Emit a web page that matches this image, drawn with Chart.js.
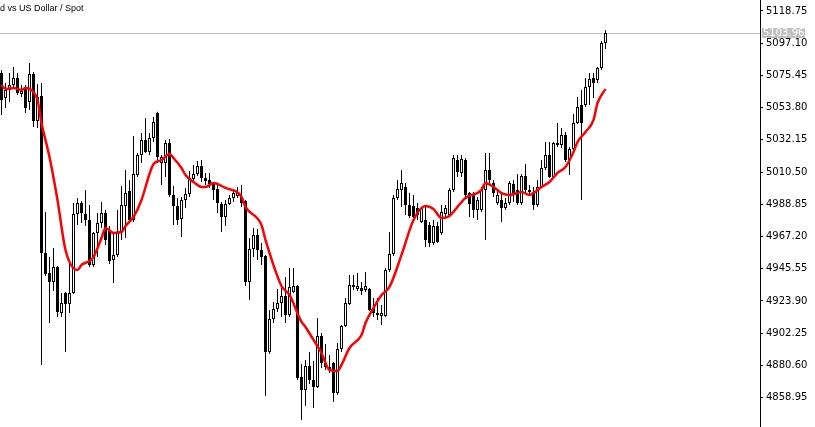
<!DOCTYPE html>
<html>
<head>
<meta charset="utf-8">
<script src="https://cdn.jsdelivr.net/npm/chart.js"></script>
<style>
  html, body { margin: 0; padding: 0; background: #fff; overflow: hidden; }
  #wrap { position: relative; width: 815px; height: 427px; }
</style>
</head>
<body>
<div id="wrap"><canvas id="priceChart"></canvas></div>
<script>
  // Gold vs US Dollar, OHLC per bar
  const symbolTitle = 'd vs US Dollar / Spot';
  const lastPrice = 5103.96;

  const opens = [
    5077.1, 5060.3, 5065.7, 5069.0, 5073.7, 5063.0, 5067.7, 5057.6, 5076.4, 5044.8,
    5061.6, 4956.1, 4942.7, 4936.6, 4946.7, 4915.8, 4929.2, 4921.8, 4929.2, 4982.3,
    4989.7, 4982.3, 4978.3, 4948.1, 4969.6, 4976.3, 4983.0, 4971.6, 4951.4, 4954.8,
    4970.2, 4987.7, 4997.8, 4978.3, 5008.5, 5022.0, 5032.1, 5024.0, 5033.4, 5050.2,
    5016.6, 5016.6, 5030.0, 4995.1, 4987.7, 4979.0, 4991.7, 4995.8, 5005.9, 5009.2,
    5014.6, 5006.5, 5005.2, 5002.5, 4999.1, 4989.0, 4980.3, 4989.0, 4993.1, 4994.4,
    4993.8, 4991.1, 4936.6, 4958.8, 4968.2, 4958.1, 4954.1, 4889.6, 4911.8, 4918.5,
    4922.5, 4927.2, 4914.5, 4929.9, 4933.9, 4872.8, 4864.1, 4880.2, 4870.8, 4866.1,
    4900.3, 4882.2, 4878.2, 4882.2, 4862.1, 4891.6, 4907.1, 4921.8, 4933.3, 4931.9,
    4932.6, 4931.3, 4931.9, 4919.2, 4915.8, 4913.8, 4913.8, 4944.7, 4955.4, 4993.1,
    4998.5, 5000.5, 4988.4, 4987.7, 4986.4, 4976.9, 4978.3, 4974.9, 4962.8, 4974.3,
    4969.6, 4982.3, 4981.7, 4998.5, 5018.6, 5009.9, 5018.6, 4996.4, 4995.1, 4985.0,
    4985.0, 4998.5, 5011.9, 5003.2, 4989.7, 4991.7, 4986.4, 4989.7, 5002.5, 4998.5,
    4989.7, 5007.9, 4998.5, 4997.1, 4988.4, 5000.5, 5013.2, 5022.0, 5007.2, 5030.0,
    5028.7, 5035.4, 5018.6, 5026.0, 5043.5, 5055.6, 5055.6, 5067.7, 5073.7, 5072.4,
    5080.4, 5097.2
  ];
  const highs = [
    5079.1, 5070.4, 5077.1, 5081.1, 5077.1, 5069.0, 5069.0, 5083.8, 5077.7, 5069.7,
    5070.4, 4983.7, 4953.4, 4959.5, 4947.4, 4929.2, 4929.9, 4950.1, 4989.7, 4993.1,
    4991.1, 4998.5, 4988.4, 4970.2, 4983.0, 4990.4, 4985.0, 4974.3, 4970.2, 4985.0,
    5001.2, 5011.9, 5005.2, 5034.8, 5023.3, 5036.8, 5046.8, 5036.8, 5047.5, 5051.0,
    5022.0, 5032.1, 5032.7, 5001.2, 4993.1, 4993.8, 4999.8, 5011.2, 5015.3, 5017.9,
    5018.6, 5009.9, 5009.9, 5003.8, 5001.8, 4990.4, 4991.7, 4995.1, 4998.5, 5000.5,
    5001.8, 4991.7, 4966.2, 4972.9, 4972.3, 4962.8, 4954.8, 4917.8, 4923.2, 4931.9,
    4932.6, 4940.0, 4946.0, 4946.0, 4934.6, 4881.5, 4884.2, 4889.6, 4883.6, 4912.4,
    4902.4, 4894.9, 4887.6, 4882.9, 4895.6, 4907.7, 4925.9, 4941.3, 4941.3, 4942.7,
    4936.6, 4943.4, 4932.6, 4925.9, 4925.9, 4921.2, 4946.0, 4970.2, 4995.1, 5005.2,
    5011.9, 5003.2, 4996.4, 4995.1, 4989.7, 4987.1, 4987.1, 4976.9, 4978.3, 4976.9,
    4988.4, 4988.4, 4999.8, 5022.0, 5022.0, 5022.0, 5019.9, 4997.1, 4997.1, 4993.8,
    5000.5, 5023.3, 5023.3, 5005.2, 4998.5, 4996.4, 4993.1, 5004.5, 5005.2, 5009.2,
    5009.2, 5015.9, 5001.8, 5000.5, 5005.2, 5018.6, 5030.7, 5030.7, 5030.7, 5043.5,
    5040.1, 5037.4, 5027.4, 5049.5, 5061.0, 5065.7, 5073.7, 5077.1, 5077.1, 5081.1,
    5098.6, 5106.0
  ];
  const lows = [
    5048.9, 5053.6, 5057.6, 5067.0, 5062.3, 5061.0, 5050.2, 5052.2, 5040.8, 5040.1,
    4880.9, 4940.7, 4909.1, 4930.6, 4913.1, 4913.1, 4889.6, 4915.8, 4928.6, 4974.9,
    4976.3, 4974.3, 4946.7, 4946.7, 4953.4, 4972.9, 4961.5, 4948.7, 4936.0, 4953.4,
    4964.9, 4966.2, 4976.9, 4976.9, 5007.2, 5016.6, 5023.3, 5022.0, 5030.7, 5016.6,
    5001.8, 5007.2, 4993.8, 4974.9, 4974.9, 4966.9, 4986.4, 4993.8, 5003.2, 5007.9,
    5003.8, 5001.8, 4999.8, 4991.7, 4983.0, 4970.2, 4974.3, 4988.4, 4990.4, 4993.1,
    4987.1, 4933.9, 4924.5, 4953.4, 4951.4, 4948.1, 4860.0, 4888.3, 4909.1, 4916.5,
    4913.1, 4909.1, 4913.1, 4929.2, 4870.8, 4843.9, 4853.3, 4868.1, 4852.0, 4865.4,
    4878.8, 4877.5, 4875.5, 4856.0, 4860.7, 4889.6, 4906.4, 4921.2, 4931.3, 4930.6,
    4927.9, 4929.9, 4917.1, 4913.1, 4911.1, 4907.7, 4913.1, 4943.4, 4954.1, 4991.7,
    4987.1, 4981.7, 4979.6, 4978.3, 4978.3, 4976.3, 4960.1, 4960.1, 4961.5, 4962.8,
    4968.2, 4980.3, 4980.3, 4997.1, 5007.2, 5007.2, 4993.8, 4980.3, 4979.6, 4978.3,
    4983.7, 4964.9, 5003.2, 4993.8, 4988.4, 4976.9, 4985.0, 4988.4, 4990.4, 4988.4,
    4988.4, 4996.4, 4995.8, 4985.0, 4987.1, 4999.8, 5011.9, 5006.5, 5006.5, 5027.4,
    5026.7, 5017.3, 5008.5, 5025.3, 5042.8, 4991.7, 5054.2, 5055.6, 5060.3, 5070.4,
    5079.1, 5093.2
  ];
  const closes = [
    5058.9, 5065.7, 5069.0, 5073.7, 5063.6, 5065.0, 5053.6, 5076.4, 5044.8, 5061.0,
    4956.1, 4942.0, 4936.6, 4946.7, 4916.5, 4922.5, 4921.8, 4929.2, 4982.3, 4989.7,
    4983.0, 4978.3, 4948.1, 4969.6, 4976.3, 4983.0, 4964.9, 4950.7, 4954.8, 4969.6,
    4988.4, 4996.4, 4978.3, 5009.2, 5022.0, 5032.1, 5024.0, 5033.4, 5044.1, 5020.6,
    5020.6, 5030.0, 4995.1, 4987.7, 4978.3, 4991.7, 4995.8, 5006.5, 5009.2, 5014.6,
    5006.5, 5004.5, 5002.5, 4998.5, 4989.7, 4980.3, 4989.0, 4993.1, 4996.4, 4996.4,
    4989.7, 4936.6, 4958.8, 4968.2, 4958.1, 4953.4, 4889.6, 4911.8, 4918.5, 4922.5,
    4927.2, 4914.5, 4933.3, 4933.9, 4872.1, 4864.1, 4880.2, 4870.8, 4866.1, 4900.3,
    4882.2, 4879.5, 4879.5, 4862.1, 4891.6, 4907.1, 4922.5, 4934.6, 4934.6, 4933.9,
    4930.6, 4933.9, 4917.8, 4915.8, 4914.5, 4915.8, 4944.7, 4955.4, 4993.1, 4999.1,
    5003.2, 4988.4, 4981.0, 4980.3, 4981.7, 4986.4, 4964.9, 4962.8, 4974.3, 4963.5,
    4983.7, 4986.4, 4998.5, 5019.9, 5010.6, 5019.3, 4995.1, 4989.0, 4985.0, 4991.7,
    4998.5, 5011.9, 5005.2, 4996.4, 4995.1, 4986.4, 4989.7, 5003.2, 4995.1, 4989.7,
    5007.9, 4998.5, 4997.1, 4988.4, 5000.5, 5013.2, 5022.0, 5007.2, 5030.0, 5028.7,
    5035.4, 5018.6, 5026.0, 5043.5, 5054.2, 5043.5, 5067.7, 5073.0, 5070.4, 5080.4,
    5097.2, 5103.96
  ];

  // red moving average, read at these bar numbers
  const maBars = [
    0, 1, 3, 5, 6, 8, 9, 10, 12, 14, 16, 19, 20, 22, 23, 25, 26, 28, 30, 31,
    33, 35, 37, 38, 40, 42, 43, 45, 46, 48, 50, 51, 53, 56, 60, 61, 65, 66, 70, 72,
    75, 76, 78, 80, 82, 84, 85, 87, 90, 91, 93, 95, 97, 100, 103, 106, 108, 110, 112, 114,
    116, 120, 121, 123, 125, 127, 130, 132, 133, 135, 137, 139, 141, 143, 144, 146, 148, 149, 151
  ];
  const maValues = [
    5069.0, 5066.3, 5067.0, 5065.7, 5067.0, 5064.3, 5058.9, 5043.5, 5020.6, 4991.7,
    4958.1, 4944.7, 4948.1, 4950.7, 4953.4, 4966.2, 4972.9, 4969.6, 4970.2, 4974.3,
    4980.3, 4991.7, 5009.2, 5015.9, 5018.6, 5022.6, 5019.9, 5013.2, 5008.5, 5003.8,
    5000.5, 5000.5, 5003.2, 4999.8, 4993.8, 4987.1, 4974.9, 4964.9, 4933.9, 4927.9,
    4909.8, 4906.4, 4897.7, 4888.9, 4877.5, 4876.8, 4880.9, 4892.3, 4901.0, 4909.1,
    4919.2, 4927.9, 4933.3, 4954.8, 4978.3, 4987.7, 4985.7, 4979.6, 4981.0, 4987.1,
    4993.1, 4998.5, 5003.2, 5000.5, 4996.4, 4995.1, 4997.1, 4995.1, 4996.4, 5000.5,
    5003.8, 5009.9, 5013.9, 5024.0, 5030.7, 5037.4, 5045.5, 5056.9, 5066.3
  ];

  // price scale labels
  const priceTicks = [
    5118.75, 5097.10, 5075.45, 5053.80, 5032.15, 5010.50, 4988.85,
    4967.20, 4945.55, 4923.90, 4902.25, 4880.60, 4858.95
  ];

  const barIdx = opens.map((_, i) => i);
  const rising = opens.map((o, i) => closes[i] >= o);
  const wickData = barIdx.map(i => ({ x: i, y: [lows[i], highs[i]] }));
  const bodyData = barIdx.map(i => ({ x: i, y: [opens[i], closes[i]] }));
  const maData = maBars.map((b, k) => ({ x: b, y: maValues[k] }));

  // price line, price box and the symbol caption
  const chartOverlay = {
    id: 'chartOverlay',
    beforeDatasetsDraw(chart) {
      const { ctx, chartArea } = chart;
      const y = Math.round(chart.scales.y.getPixelForValue(lastPrice)) + 0.5;
      ctx.save();
      ctx.strokeStyle = '#c0c0c0';
      ctx.lineWidth = 1;
      ctx.beginPath();
      ctx.moveTo(chartArea.left, y);
      ctx.lineTo(chartArea.right, y);
      ctx.stroke();
      ctx.restore();
    },
    afterDraw(chart) {
      const { ctx, chartArea } = chart;
      const y = Math.round(chart.scales.y.getPixelForValue(lastPrice));
      ctx.save();
      ctx.fillStyle = '#c0c0c0';
      ctx.fillRect(chartArea.right + 2, y - 5, 43, 10);
      ctx.fillStyle = '#fff';
      ctx.font = '10px "DejaVu Sans"';
      ctx.textBaseline = 'middle';
      ctx.fillText(lastPrice.toFixed(2), chartArea.right + 3, y);
      ctx.fillStyle = '#000';
      ctx.font = '9px "Liberation Sans"';
      ctx.fillText(symbolTitle, 0, 9);
      ctx.restore();
    }
  };

  Chart.defaults.font.family = '"DejaVu Sans", sans-serif';

  const priceChart = new Chart(document.getElementById('priceChart'), {
    type: 'bar',
    data: {
      datasets: [
        {
          type: 'line',
          label: 'MA',
          data: maData,
          borderColor: '#ff0000',
          borderWidth: 2.5,
          pointRadius: 0,
          cubicInterpolationMode: 'monotone',
          order: 0
        },
        {
          label: 'Body',
          data: bodyData,
          backgroundColor: rising.map(r => r ? '#ffffff' : '#000000'),
          borderColor: '#000000',
          borderWidth: 1,
          borderSkipped: false,
          barThickness: 3,
          grouped: false,
          inflateAmount: 0,
          order: 1
        },
        {
          label: 'Wick',
          data: wickData,
          backgroundColor: '#000000',
          borderWidth: 0,
          barThickness: 1,
          grouped: false,
          inflateAmount: 0,
          order: 2
        }
      ]
    },
    options: {
      responsive: true,
      maintainAspectRatio: false,
      animation: false,
      devicePixelRatio: 1,
      events: [],
      layout: { padding: 0 },
      plugins: {
        legend: { display: false },
        tooltip: { enabled: false }
      },
      scales: {
        x: {
          type: 'linear',
          display: false,
          offset: false,
          min: -0.375,
          max: 189.625
        },
        y: {
          type: 'linear',
          position: 'right',
          beginAtZero: false,
          min: 4839.2,
          max: 5126.1,
          afterBuildTicks: axis => { axis.ticks = priceTicks.map(v => ({ value: v })); },
          afterFit: axis => {
            axis.width = 55;
            // keep the plot flush with the top and bottom edges
            axis.paddingTop = 0;
            axis.paddingBottom = 0;
          },
          grid: {
            drawOnChartArea: false,
            drawTicks: true,
            tickLength: 3,
            color: '#000'
          },
          border: { display: true, color: '#000', width: 1 },
          ticks: {
            color: '#000',
            font: { size: 10 },
            padding: 3,
            autoSkip: false,
            maxRotation: 0,
            callback: v => Number(v).toFixed(2)
          }
        }
      }
    },
    plugins: [chartOverlay]
  });
</script>
</body>
</html>
